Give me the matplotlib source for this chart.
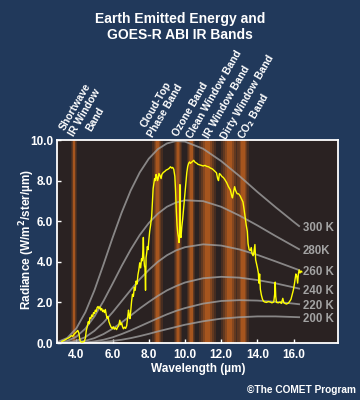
import matplotlib
matplotlib.use('Agg')
import matplotlib.pyplot as plt

plt.rcParams['font.family'] = ['Liberation Sans', 'DejaVu Sans']
plt.rcParams['font.weight'] = 'bold'

# blackbody curves (W/m2/ster/um)
bb_wl = [3.0, 3.5, 4.0, 4.5, 5.0, 5.5, 6.0, 6.5, 7.0, 7.5, 8.0, 8.5, 9.0, 9.5,
         10.0, 11.0, 12.0, 13.0, 14.0, 15.0, 16.0, 16.3]
rad_300 = [0.06, 0.25, 0.72, 1.52, 2.60, 3.87, 5.18, 6.42, 7.51, 8.40, 9.08, 9.55, 9.83, 9.95,
           9.92, 9.57, 8.96, 8.23, 7.44, 6.69, 5.97, 5.76]
rad_280 = [0.02, 0.10, 0.31, 0.71, 1.31, 2.07, 2.92, 3.79, 4.60, 5.32, 5.91, 6.37, 6.71, 6.92,
           7.03, 6.99, 6.71, 6.28, 5.79, 5.27, 4.77, 4.62]
rad_260 = [0.005, 0.03, 0.11, 0.29, 0.60, 1.01, 1.51, 2.06, 2.61, 3.14, 3.60, 4.00, 4.32, 4.56,
           4.72, 4.86, 4.80, 4.61, 4.34, 4.02, 3.69, 3.59]
rad_240 = [0.001, 0.008, 0.04, 0.11, 0.24, 0.44, 0.70, 1.01, 1.35, 1.70, 2.02, 2.32, 2.59, 2.80,
           2.98, 3.19, 3.26, 3.22, 3.10, 2.94, 2.74, 2.68]
rad_220 = [0.0, 0.002, 0.009, 0.03, 0.08, 0.16, 0.28, 0.44, 0.62, 0.82, 1.02, 1.22, 1.41, 1.58,
           1.72, 1.94, 2.07, 2.11, 2.09, 2.03, 1.94, 1.91]
rad_200 = [0.0, 0.0, 0.002, 0.007, 0.02, 0.05, 0.10, 0.16, 0.24, 0.34, 0.45, 0.57, 0.68, 0.79,
           0.90, 1.07, 1.20, 1.27, 1.31, 1.31, 1.28, 1.27]
bb_curves = [rad_300, rad_280, rad_260, rad_240, rad_220, rad_200]
bb_labels = ['300 K', '280K', '260 K', '240 K', '220 K', '200 K']

# ABI IR bands
band_names = ['Shortwave\nIR Window\nBand', 'Cloud-Top\nPhase Band', 'Ozone Band',
              'Clean Window Band', 'IR Window Band', 'Dirty Window Band', r'CO$_\mathbf{2}$ Band']
band_center = [3.87, 8.48, 9.61, 10.35, 11.24, 12.46, 13.2]
band_half = [0.08, 0.14, 0.11, 0.11, 0.23, 0.25, 0.16]
# where the rotated labels sit (centre of text block)
label_x = [4.48, 8.66, 10.31, 11.60, 12.30, 13.44, 13.81]
label_y = [11.33, 11.6, 11.49, 12.27, 11.89, 12.13, 11.18]

# measured earth emission spectrum
spec_wl = [3.20, 3.35, 3.50, 3.62, 3.72, 3.80, 3.88, 3.95, 4.02, 4.08, 4.14, 4.20, 4.28, 4.36,
           4.44, 4.50, 4.55, 4.60, 4.66, 4.70, 4.75, 4.80, 4.85, 4.90, 4.95, 5.00, 5.05, 5.10,
           5.15, 5.20, 5.25, 5.30, 5.35, 5.40, 5.45, 5.50, 5.55, 5.60, 5.65, 5.70, 5.75, 5.80,
           5.86, 5.92, 5.98, 6.04, 6.10, 6.16, 6.22, 6.28, 6.34, 6.40, 6.45, 6.50, 6.55, 6.60,
           6.66, 6.72, 6.78, 6.84, 6.88, 6.92, 6.96, 7.00, 7.05, 7.10, 7.15, 7.20, 7.25, 7.30,
           7.35, 7.40, 7.45, 7.50, 7.55, 7.60, 7.64, 7.68, 7.70, 7.72, 7.76, 7.79, 7.82, 7.85,
           7.88, 7.92, 7.96, 8.00, 8.05, 8.10, 8.16, 8.20, 8.24, 8.28, 8.32, 8.36, 8.40, 8.44,
           8.48, 8.52, 8.56, 8.62, 8.68, 8.72, 8.80, 8.88, 8.96, 9.04, 9.12, 9.20, 9.26, 9.32,
           9.38, 9.44, 9.48, 9.52, 9.56, 9.60, 9.64, 9.67, 9.70, 9.72, 9.74, 9.78, 9.82, 9.87,
           9.92, 9.96, 10.00, 10.05, 10.10, 10.15, 10.20, 10.25, 10.30, 10.36, 10.42, 10.48,
           10.54, 10.60, 10.66, 10.72, 10.80, 10.90, 11.00, 11.10, 11.20, 11.30, 11.40, 11.50,
           11.58, 11.66, 11.74, 11.80, 11.85, 11.90, 11.96, 12.04, 12.12, 12.20, 12.30, 12.40,
           12.50, 12.58, 12.62, 12.68, 12.74, 12.80, 12.88, 12.96, 13.04, 13.12, 13.20, 13.26,
           13.32, 13.38, 13.44, 13.48, 13.54, 13.60, 13.66, 13.70, 13.76, 13.80, 13.86, 13.90,
           13.95, 14.00, 14.05, 14.08, 14.12, 14.16, 14.22, 14.28, 14.34, 14.40, 14.50, 14.60,
           14.70, 14.80, 14.90, 14.95, 14.98, 15.01, 15.05, 15.15, 15.25, 15.32, 15.40, 15.45,
           15.52, 15.60, 15.70, 15.78, 15.85, 15.92, 15.98, 16.04, 16.08, 16.12, 16.17, 16.22,
           16.26, 16.30, 16.35, 16.40, 16.45]
spec_rad = [0.08, 0.14, 0.22, 0.27, 0.36, 0.33, 0.44, 0.50, 0.56, 0.62, 0.48, 0.12, 0.04, 0.05,
            0.08, 0.25, 0.62, 0.80, 1.05, 0.95, 1.25, 1.20, 1.38, 1.30, 1.50, 1.45, 1.62, 1.55,
            1.75, 1.80, 1.70, 1.78, 1.62, 1.70, 1.55, 1.62, 1.50, 1.65, 1.40, 1.22, 1.30, 1.05,
            0.90, 0.78, 0.72, 0.80, 0.68, 0.75, 0.66, 0.78, 0.85, 1.12, 0.90, 0.98, 0.80, 0.70,
            0.78, 0.72, 0.85, 1.30, 1.62, 1.35, 1.20, 1.55, 2.05, 2.40, 2.30, 2.75, 2.60, 3.05,
            2.90, 3.35, 3.60, 3.95, 3.70, 4.15, 4.05, 4.60, 5.20, 4.30, 3.80, 3.70, 2.60, 4.20,
            4.40, 4.75, 4.60, 5.05, 5.50, 5.80, 6.25, 6.90, 7.60, 7.85, 8.10, 8.00, 8.30, 8.20,
            8.00, 8.10, 8.35, 8.25, 8.10, 8.30, 8.40, 8.45, 8.52, 8.55, 8.60, 8.68, 8.62, 8.65,
            8.55, 8.20, 7.50, 6.50, 5.80, 5.40, 5.20, 4.95, 5.30, 7.80, 5.30, 5.20, 5.70, 6.10,
            6.60, 7.00, 7.40, 7.90, 8.40, 8.70, 8.85, 8.92, 8.85, 8.90, 8.95, 9.00,
            8.92, 8.88, 8.85, 8.80, 8.78, 8.75, 8.72, 8.75, 8.70, 8.68, 8.62, 8.58,
            8.52, 8.45, 8.38, 8.10, 8.00, 8.35, 8.30, 8.20, 8.15, 8.05, 7.90, 7.70,
            7.55, 7.25, 7.15, 7.45, 7.70, 7.50, 7.35, 7.35, 7.25, 7.10, 6.95, 6.60,
            6.20, 5.80, 5.50, 4.90, 4.60, 4.55, 4.70, 4.40, 4.30, 4.45, 4.85, 4.10,
            3.90, 3.70, 3.45, 2.95, 3.40, 2.65, 2.35, 2.15, 2.05, 2.02, 2.00, 2.04,
            2.02, 1.98, 2.02, 2.40, 3.00, 2.30, 2.00, 1.98, 2.02, 1.95, 2.20, 2.00,
            1.95, 1.92, 1.96, 2.05, 2.15, 2.40, 2.60, 2.90, 3.15, 3.40, 3.30, 2.95,
            3.40, 3.60, 3.45, 3.55, 3.50]

navy = '#21395b'
plot_bg = '#2a2222'
orange = '#c8641e'

fig = plt.figure(figsize=(3.6, 4.0), dpi=100, facecolor=navy)
ax = fig.add_axes([0.159, 0.1425, 0.780, 0.5075])
ax.set_facecolor(plot_bg)

# bands with a soft glow
for c, w in zip(band_center, band_half):
    for k, a in [(2.0, 0.18), (1.5, 0.22), (1.0, 0.35), (0.6, 0.5)]:
        ax.axvspan(c - w * k, c + w * k, color=orange, alpha=a, lw=0, zorder=1)

for rad, lab in zip(bb_curves, bb_labels):
    ax.plot(bb_wl, rad, color='#a0a0a0', alpha=0.8, lw=1.3, zorder=2)
    ax.text(16.52, rad[-1] - 0.1, lab, color='#a3a3a3', fontsize=8.3,
            ha='left', va='center', zorder=4, clip_on=False)

ax.plot(spec_wl, spec_rad, color='#ffff00', lw=1.0, zorder=3)

for name, x, y in zip(band_names, label_x, label_y):
    ax.text(x, y, name, rotation=60, rotation_mode='anchor', ha='center', va='center',
            multialignment='center', color='white', fontsize=7.5, clip_on=False)

ax.set_xlim(2.945, 18.45)
ax.set_ylim(0, 10)
ax.set_xticks(range(4, 17, 2))
ax.set_xticklabels(['%.1f' % v for v in range(4, 17, 2)])
ax.set_yticks(range(0, 11, 2))
ax.set_yticklabels(['%.1f' % v for v in range(0, 11, 2)])
ax.tick_params(direction='in', length=3, width=1, color='white', labelcolor='white',
               labelsize=8.5)
ax.tick_params(axis='x', pad=4)
ax.tick_params(axis='y', pad=3)
for s in ax.spines.values():
    s.set_color('white')
    s.set_linewidth(1.3)

fig.text(0.5, 1 - 19 / 400, 'Earth Emitted Energy and', color='white', fontsize=10,
         ha='center', va='center')
fig.text(0.5, 1 - 35 / 400, 'GOES-R ABI IR Bands', color='white', fontsize=10,
         ha='center', va='center')
fig.text(198 / 360, 1 - 369 / 400, 'Wavelength (µm)', color='white', fontsize=8.5,
         ha='center', va='center')
fig.text(27 / 360, 1 - 239 / 400, r'Radiance (W/m$^\mathbf{2}$/ster/µm)', color='white',
         fontsize=8.5, rotation=90, ha='center', va='center')
fig.text(356 / 360, 1 - 390 / 400, '©The COMET Program', color='white', fontsize=7.3,
         ha='right', va='center')

fig.savefig('out.png', dpi=100, facecolor=fig.get_facecolor())
